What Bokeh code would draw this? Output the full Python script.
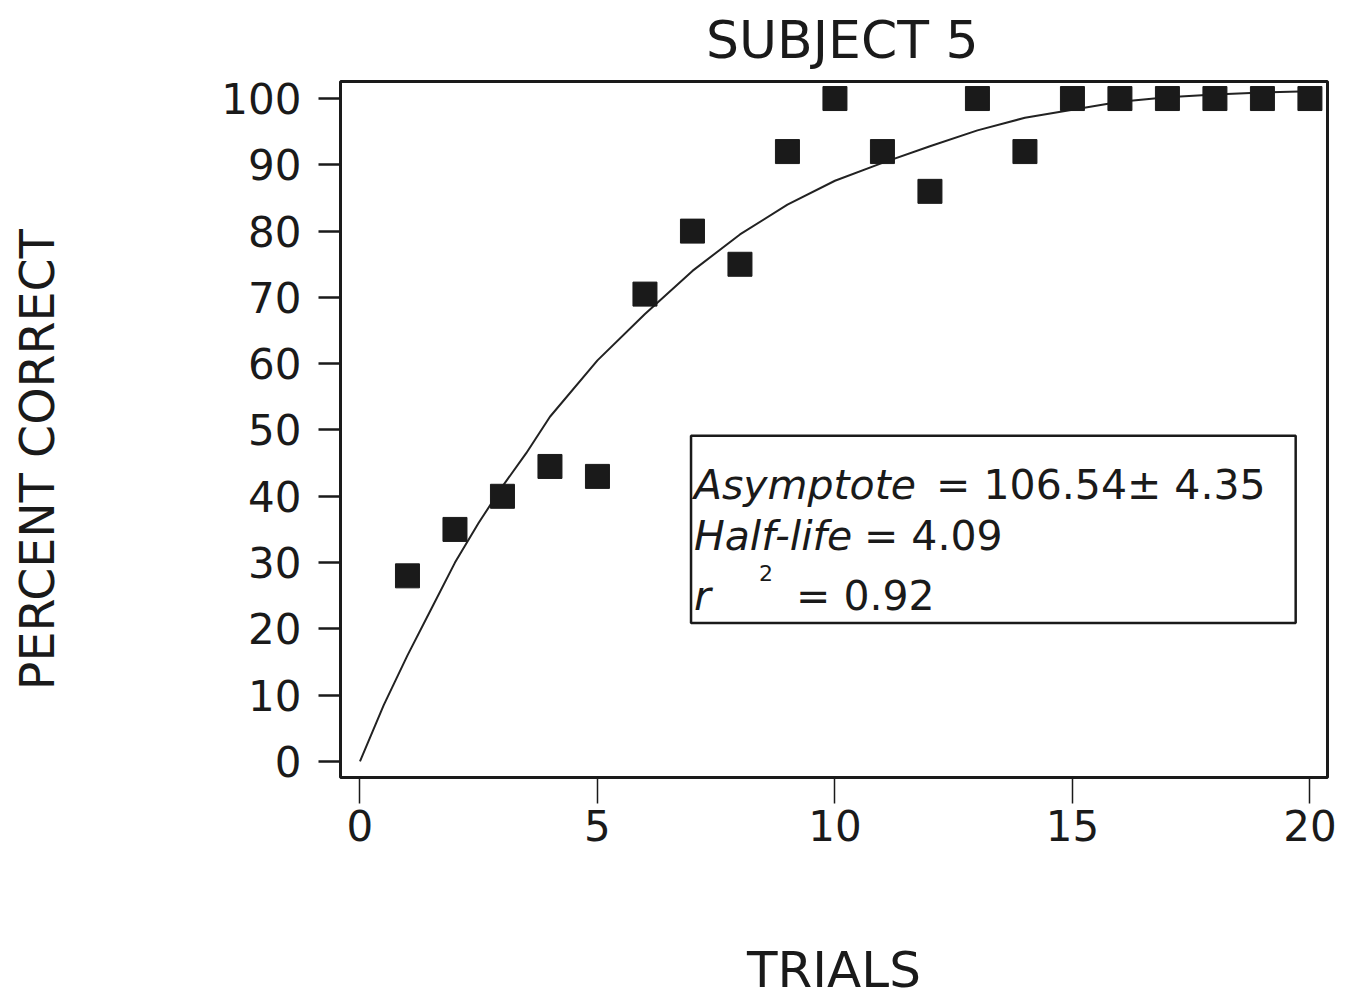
from bokeh.plotting import figure
from bokeh.models import FixedTicker, Range1d, BoxAnnotation, Label, ColumnDataSource, LinearAxis
from bokeh.embed import file_html
from bokeh.resources import INLINE

# ---- data ----
trials = [1, 2, 3, 4, 5, 6, 7, 8, 9, 10, 11, 12, 13, 14, 15, 16, 17, 18, 19, 20]
percent_correct = [28, 35, 40, 44.5, 43, 70.5, 80, 75, 92, 100, 92, 86, 100, 92, 100, 100, 100, 100, 100, 100]

fit_x = [0, 0.5, 1, 1.5, 2, 2.5, 3, 3.5, 4, 5, 6, 7, 8, 9, 10, 11, 12, 13, 14, 15, 16, 17, 18, 19, 20]
fit_y = [0, 8.5, 16, 23, 30, 36, 41.5, 46.5, 52, 60.5, 67.5, 74, 79.5, 84, 87.6, 90.3, 92.8, 95.2, 97.1, 98.3, 99.5, 100.2, 100.6, 100.9, 101.1]

x_ticks = [0, 5, 10, 15, 20]
y_ticks = [0, 10, 20, 30, 40, 50, 60, 70, 80, 90, 100]

title_text = "SUBJECT 5"
x_label = "TRIALS"
y_label = "PERCENT CORRECT"
asym_name, asym_val = "Asymptote", "= 106.54\u00b1 4.35"
half_name, half_val = "Half-life", "= 4.09"
r_name, r_sup, r_val = "r", "2", "= 0.92"

FONT = "DejaVu Sans"
INK = "#1a1a1a"

p = figure(width=1357, height=1002, output_backend="svg", toolbar_location=None,
           x_range=Range1d(-0.41, 20.37), y_range=Range1d(-2.42, 102.57))
p.min_border_left = 340
p.min_border_right = 30
p.min_border_top = 81
p.min_border_bottom = 225
p.background_fill_color = "white"
p.border_fill_color = "white"
p.outline_line_color = INK
p.outline_line_width = 3
p.xgrid.grid_line_color = None
p.ygrid.grid_line_color = None

# bottom x axis
xa = p.below[0]
xa.ticker = FixedTicker(ticks=x_ticks)
xa.axis_line_color = None
xa.major_tick_in = 0
xa.major_tick_out = 26
xa.major_tick_line_width = 1.5
xa.major_tick_line_color = INK
xa.minor_tick_line_color = None
xa.major_label_text_font = FONT
xa.major_label_text_font_size = "42px"
xa.major_label_text_color = INK
xa.major_label_standoff = 6
xa.axis_label = x_label
xa.axis_label_text_font = FONT
xa.axis_label_text_font_size = "50px"
xa.axis_label_text_font_style = "normal"
xa.axis_label_text_color = INK
xa.axis_label_standoff = 97

# left y axis
ya = p.left[0]
ya.ticker = FixedTicker(ticks=y_ticks)
ya.axis_line_color = None
ya.major_tick_in = 0
ya.major_tick_out = 22
ya.major_tick_line_width = 2.5
ya.major_tick_line_color = INK
ya.minor_tick_line_color = None
ya.major_label_text_font = FONT
ya.major_label_text_font_size = "42px"
ya.major_label_text_color = INK
ya.major_label_standoff = 17
ya.axis_label = y_label + "\u00a0" * 4
ya.axis_label_text_font = FONT
ya.axis_label_text_font_size = "47.5px"
ya.axis_label_text_font_style = "normal"
ya.axis_label_text_color = INK
ya.axis_label_standoff = 153

# title, drawn as the label of a tick-less axis above the frame
top_axis = LinearAxis(ticker=FixedTicker(ticks=[]))
top_axis.axis_line_color = None
top_axis.major_tick_in = 0
top_axis.major_tick_out = 0
top_axis.minor_tick_line_color = None
top_axis.major_label_standoff = 0
top_axis.major_label_text_font_size = "1px"
top_axis.axis_label = "\u00a0" + title_text
top_axis.axis_label_text_font = FONT
top_axis.axis_label_text_font_size = "52px"
top_axis.axis_label_text_font_style = "normal"
top_axis.axis_label_text_color = INK
top_axis.axis_label_standoff = 12
p.add_layout(top_axis, "above")

# fitted curve
p.line(x=fit_x, y=fit_y, line_color="#222222", line_width=2)

# data points
src = ColumnDataSource(dict(x=trials, y=percent_correct))
p.scatter(x="x", y="y", source=src, marker="square", size=24,
          fill_color=INK, line_color=INK, line_width=1)

# parameter box
box = BoxAnnotation(left=6.97, right=19.7, bottom=20.9, top=49.13,
                    fill_color=None, fill_alpha=0, line_color=INK,
                    line_alpha=1.0, line_width=2.5)
p.add_layout(box)

def lab(x, y, text, size="41px", style="normal", align="left"):
    p.add_layout(Label(x=x, y=y, text=text, text_font=FONT, text_font_size=size,
                       text_font_style=style, text_color=INK,
                       text_baseline="alphabetic", text_align=align))

# parameter texts
lab(7.03, 41.7, asym_name, style="italic")
lab(12.13, 41.7, asym_val)
lab(7.03, 34.0, half_name, style="italic")
lab(10.61, 34.0, half_val)
lab(7.03, 24.9, r_name, style="italic")
lab(8.40, 28.4, r_sup, size="22px")
lab(9.18, 24.9, r_val)

open("out.html", "w").write(file_html(p, INLINE))
